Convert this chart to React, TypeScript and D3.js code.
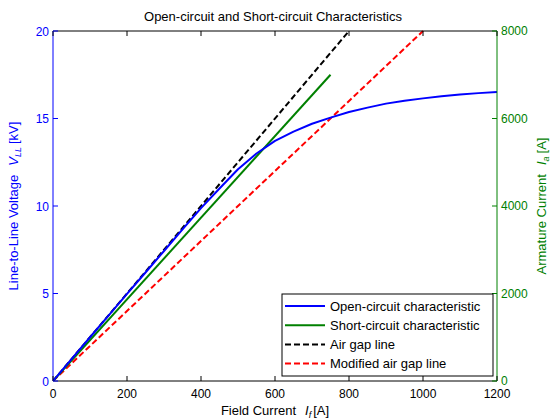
import React from "react";
import * as d3 from "d3";

const ocField = [0, 50, 100, 150, 200, 250, 300, 350, 400, 450, 500, 550, 600, 650, 700, 750, 800, 850, 900, 950, 1000, 1050, 1100, 1150, 1200];
const ocVoltage = [0, 1.25, 2.5, 3.74, 4.98, 6.2, 7.43, 8.66, 9.88, 11.0, 12.1, 13.0, 13.72, 14.25, 14.7, 15.05, 15.37, 15.62, 15.85, 16.02, 16.15, 16.27, 16.37, 16.45, 16.52];
const scField = [0, 750];
const scCurrent = [0, 7000];
const airGapField = [0, 800];
const airGapVoltage = [0, 20];
const modField = [0, 1000];
const modVoltage = [0, 20];

const xTicks = [0, 200, 400, 600, 800, 1000, 1200];
const yTicks = [0, 5, 10, 15, 20];
const y2Ticks = [0, 2000, 4000, 6000, 8000];

const legendItems = [
  { label: "Open-circuit characteristic", color: "#0000ff", dash: "" },
  { label: "Short-circuit characteristic", color: "#008000", dash: "" },
  { label: "Air gap line", color: "#000000", dash: "6,3" },
  { label: "Modified air gap line", color: "#ff0000", dash: "6,3" },
];

const W = 550, H = 420;
const L = 53, R = 497, T = 31, B = 381;
const FONT = "'Liberation Sans', Arial, Helvetica, sans-serif";
const BLUE = "#0000ff";
const GREEN = "#008000";

export default function App() {
  const x = d3.scaleLinear().domain([0, 1200]).range([L, R]);
  const y = d3.scaleLinear().domain([0, 20]).range([B, T]);
  const y2 = d3.scaleLinear().domain([0, 8000]).range([B, T]);

  const lineV = (xs: number[], ys: number[]) =>
    d3.line<number>().x((d, i) => x(xs[i])).y((d) => y(d))(ys) || "";
  const lineA = (xs: number[], ys: number[]) =>
    d3.line<number>().x((d, i) => x(xs[i])).y((d) => y2(d))(ys) || "";

  const tl = 5;
  const lgX = 282, lgY = 294, lgW = 211, lgH = 82;
  const rowY0 = 306, rowDy = 19.2;
  const tickFs = 12;
  const labFs = 13;

  return (
    <svg width={W} height={H} style={{ position: "absolute", left: 0, top: 0, background: "#fff" }} fontFamily={FONT}>
      <rect x={0} y={0} width={W} height={H} fill="#fff" />
      <text x={273} y={21} fontSize={labFs} textAnchor="middle" fill="#000">
        Open-circuit and Short-circuit Characteristics
      </text>

      {/* data */}
      <defs>
        <clipPath id="plotclip">
          <rect x={L} y={T - 1} width={R - L} height={B - T + 1} />
        </clipPath>
      </defs>
      <g clipPath="url(#plotclip)" fill="none" strokeLinejoin="round">
        <path d={lineV(airGapField, airGapVoltage)} stroke="#000" strokeWidth={2} strokeDasharray="6,3" />
        <path d={lineV(modField, modVoltage)} stroke="#ff0000" strokeWidth={2} strokeDasharray="6,3" />
        <path d={lineA(scField, scCurrent)} stroke={GREEN} strokeWidth={2} />
        <path d={lineV(ocField, ocVoltage)} stroke={BLUE} strokeWidth={2} />
      </g>

      {/* axes box */}
      <line x1={L} x2={R} y1={B} y2={B} stroke="#000" strokeWidth={1} />
      <line x1={L} x2={R} y1={T} y2={T} stroke="#000" strokeWidth={1} />
      <line x1={L} x2={L} y1={T} y2={B} stroke={BLUE} strokeWidth={1} />
      <line x1={R} x2={R} y1={T} y2={B} stroke={GREEN} strokeWidth={1} />

      {xTicks.map((t) => (
        <g key={"x" + t}>
          <line x1={x(t)} x2={x(t)} y1={B} y2={B - tl} stroke="#000" />
          <line x1={x(t)} x2={x(t)} y1={T} y2={T + tl} stroke="#000" />
          <text x={x(t)} y={B + 16.5} fontSize={tickFs} textAnchor="middle" fill="#000">{t}</text>
        </g>
      ))}
      {yTicks.map((t) => (
        <g key={"y" + t}>
          <line x1={L} x2={L + tl} y1={y(t)} y2={y(t)} stroke={BLUE} />
          <text x={L - 4} y={y(t) + 4.5} fontSize={tickFs} textAnchor="end" fill={BLUE}>{t}</text>
        </g>
      ))}
      {y2Ticks.map((t) => (
        <g key={"y2" + t}>
          <line x1={R} x2={R - tl} y1={y2(t)} y2={y2(t)} stroke={GREEN} />
          <text x={R + 4} y={y2(t) + 4} fontSize={tickFs} textAnchor="start" fill={GREEN}>{t}</text>
        </g>
      ))}

      {/* axis labels */}
      <text x={(L + R) / 2} y={415} fontSize={labFs} textAnchor="middle" fill="#000">
        Field Current
        <tspan fontStyle="italic" dx={9}>I</tspan>
        <tspan fontStyle="italic" fontSize={9} dy={3}>f</tspan>
        <tspan dy={-3} dx={2}>[A]</tspan>
      </text>
      <text transform={`translate(18,${(T + B) / 2}) rotate(-90)`} fontSize={labFs} textAnchor="middle" fill={BLUE}>
        Line-to-Line Voltage
        <tspan fontStyle="italic" dx={9}>V</tspan>
        <tspan fontStyle="italic" fontSize={9} dy={3}>LL</tspan>
        <tspan dy={-3} dx={3}>[kV]</tspan>
      </text>
      <text transform={`translate(546,${(T + B) / 2}) rotate(-90)`} fontSize={labFs} textAnchor="middle" fill={GREEN}>
        Armature Current
        <tspan fontStyle="italic" dx={9}>I</tspan>
        <tspan fontStyle="italic" fontSize={9} dy={3}>a</tspan>
        <tspan dy={-3} dx={3}>[A]</tspan>
      </text>

      {/* legend */}
      <rect x={lgX} y={lgY} width={lgW} height={lgH} fill="#fff" stroke="#000" strokeWidth={1} />
      {legendItems.map((it, i) => (
        <g key={it.label}>
          <line x1={285} x2={325} y1={rowY0 + i * rowDy} y2={rowY0 + i * rowDy} stroke={it.color} strokeWidth={2} strokeDasharray={it.dash || undefined} />
          <text x={330} y={rowY0 + i * rowDy + 4.5} fontSize={labFs} fill="#000">{it.label}</text>
        </g>
      ))}
    </svg>
  );
}
